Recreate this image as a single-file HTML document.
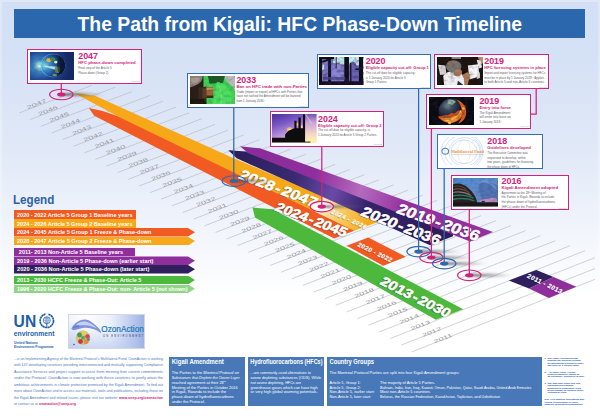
<!DOCTYPE html>
<html><head><meta charset="utf-8"><title>The Path from Kigali: HFC Phase-Down Timeline</title>
<style>

html,body{margin:0;padding:0;}
body{width:600px;height:416px;overflow:hidden;background:#fff;font-family:"Liberation Sans",sans-serif;}
#page{position:relative;width:600px;height:416px;overflow:hidden;
 background:linear-gradient(180deg,#d3dff4 0%,#d5e1f5 14%,#e1e9f8 36%,#eff3fb 53%,#fafbfe 65%,#ffffff 72%,#ffffff 100%);}
#page:before{content:"";position:absolute;left:0;top:0;width:596px;height:414px;border:2px solid rgba(255,255,255,.28);border-bottom:0;}
#tl,#tx{position:absolute;left:0;top:0;}
.abs{position:absolute;box-sizing:border-box;}
#banner{left:13.5px;top:8.5px;width:571.5px;height:29.5px;background:#2b67ad;}
.co{background:#fff;border:1.2px solid #d3227b;}
.co.b{border-color:#356fb1;}
.ph{position:absolute;overflow:hidden;}
.bar{height:8.6px;}
.bx{background:#4878b8;}

</style></head>
<body>
<div id="page">
<svg id="tl" width="600" height="416" viewBox="0 0 600 416">
<defs>
<linearGradient id="gY" gradientUnits="userSpaceOnUse" x1="312" y1="206" x2="366" y2="230">
 <stop offset="0" stop-color="#f7a818"/><stop offset="0.08" stop-color="#f7a818"/>
 <stop offset="0.10" stop-color="#fdf0cf"/><stop offset="0.45" stop-color="#fbcf6d"/><stop offset="1" stop-color="#f7a818"/>
</linearGradient>
<linearGradient id="gP" gradientUnits="userSpaceOnUse" x1="240" y1="150" x2="490" y2="238">
 <stop offset="0" stop-color="#8a2b9a"/><stop offset="0.30" stop-color="#8f2f9e"/>
 <stop offset="0.48" stop-color="#b56abd"/><stop offset="0.66" stop-color="#93309f"/><stop offset="1" stop-color="#93309f"/>
</linearGradient>
<linearGradient id="gD" gradientUnits="userSpaceOnUse" x1="228" y1="155" x2="450" y2="240">
 <stop offset="0" stop-color="#2b1d58"/><stop offset="0.30" stop-color="#3a2a72"/>
 <stop offset="0.47" stop-color="#6a4aa6"/><stop offset="0.62" stop-color="#35236a"/><stop offset="1" stop-color="#2d1c5a"/>
</linearGradient>
<linearGradient id="gS" x1="0" y1="0" x2="1" y2="0">
 <stop offset="0" stop-color="#444" stop-opacity="0.95"/><stop offset="1" stop-color="#777" stop-opacity="0"/>
</linearGradient>
<filter id="tb" x="-10%" y="-40%" width="120%" height="180%"><feGaussianBlur stdDeviation="0.9"/></filter>
<filter id="tb2" x="-10%" y="-40%" width="120%" height="180%"><feGaussianBlur stdDeviation="0.35"/></filter>
<filter id="bl" x="-10%" y="-200%" width="120%" height="500%"><feGaussianBlur stdDeviation="0.9"/></filter>
</defs>
<g stroke="#b3b5ba" stroke-width="0.6" fill="none"><line x1="19.0" y1="113.0" x2="92.0" y2="85.3"/><line x1="29.9" y1="119.6" x2="115.5" y2="87.1"/><line x1="40.8" y1="126.3" x2="132.0" y2="91.6"/><line x1="51.8" y1="132.9" x2="150.0" y2="95.4"/><line x1="62.7" y1="139.5" x2="163.0" y2="101.2"/><line x1="73.6" y1="146.2" x2="176.0" y2="107.0"/><line x1="84.5" y1="152.8" x2="189.0" y2="112.8"/><line x1="95.4" y1="159.4" x2="202.0" y2="118.6"/><line x1="106.4" y1="166.1" x2="215.0" y2="124.4"/><line x1="117.3" y1="172.7" x2="228.0" y2="130.2"/><line x1="128.2" y1="179.3" x2="243.6" y2="135.0"/><line x1="139.1" y1="186.0" x2="259.2" y2="139.7"/><line x1="150.0" y1="192.6" x2="274.8" y2="144.5"/><line x1="161.0" y1="199.2" x2="290.4" y2="149.3"/><line x1="171.9" y1="205.9" x2="306.0" y2="154.1"/><line x1="182.8" y1="212.5" x2="320.6" y2="159.2"/><line x1="193.7" y1="219.1" x2="335.2" y2="164.4"/><line x1="204.6" y1="225.8" x2="349.8" y2="169.5"/><line x1="215.6" y1="232.4" x2="364.3" y2="174.7"/><line x1="226.5" y1="239.0" x2="378.9" y2="179.8"/><line x1="237.4" y1="245.6" x2="393.5" y2="184.9"/><line x1="248.3" y1="252.3" x2="408.1" y2="190.1"/><line x1="259.2" y1="258.9" x2="422.7" y2="195.2"/><line x1="270.2" y1="265.5" x2="437.2" y2="200.3"/><line x1="281.1" y1="272.2" x2="451.8" y2="205.5"/><line x1="292.0" y1="278.8" x2="466.4" y2="210.6"/><line x1="302.9" y1="285.4" x2="481.0" y2="215.7"/><line x1="313.8" y1="292.1" x2="495.9" y2="220.7"/><line x1="324.8" y1="298.7" x2="510.7" y2="225.7"/><line x1="335.7" y1="305.3" x2="525.6" y2="230.7"/><line x1="346.6" y1="312.0" x2="540.4" y2="235.7"/><line x1="357.5" y1="318.6" x2="555.3" y2="240.7"/><line x1="368.4" y1="325.2" x2="570.1" y2="245.7"/><line x1="379.4" y1="331.9" x2="585.0" y2="250.7"/><line x1="390.3" y1="338.5" x2="595.0" y2="257.6"/><line x1="401.2" y1="345.1" x2="595.0" y2="268.5"/><line x1="412.1" y1="351.8" x2="595.0" y2="279.3"/></g>
<g font-family="Liberation Sans, sans-serif" font-size="6.5" fill="#97979b"><text transform="matrix(1.309,-0.497,0.400,0.693,37.4,105.6)" text-anchor="middle">2047</text><text transform="matrix(1.309,-0.497,0.400,0.693,48.7,112.1)" text-anchor="middle">2046</text><text transform="matrix(1.309,-0.497,0.400,0.693,60.0,118.6)" text-anchor="middle">2045</text><text transform="matrix(1.309,-0.497,0.400,0.693,71.3,125.1)" text-anchor="middle">2044</text><text transform="matrix(1.309,-0.497,0.400,0.693,82.6,131.6)" text-anchor="middle">2043</text><text transform="matrix(1.309,-0.497,0.400,0.693,93.9,138.2)" text-anchor="middle">2042</text><text transform="matrix(1.309,-0.497,0.400,0.693,105.2,144.7)" text-anchor="middle">2041</text><text transform="matrix(1.309,-0.497,0.400,0.693,116.4,151.2)" text-anchor="middle">2040</text><text transform="matrix(1.309,-0.497,0.400,0.693,127.7,157.7)" text-anchor="middle">2039</text><text transform="matrix(1.309,-0.497,0.400,0.693,139.0,164.2)" text-anchor="middle">2038</text><text transform="matrix(1.309,-0.497,0.400,0.693,150.3,170.7)" text-anchor="middle">2037</text><text transform="matrix(1.309,-0.497,0.400,0.693,161.6,177.2)" text-anchor="middle">2036</text><text transform="matrix(1.309,-0.497,0.400,0.693,172.9,183.7)" text-anchor="middle">2035</text><text transform="matrix(1.309,-0.497,0.400,0.693,184.2,190.2)" text-anchor="middle">2034</text><text transform="matrix(1.309,-0.497,0.400,0.693,195.5,196.7)" text-anchor="middle">2033</text><text transform="matrix(1.309,-0.497,0.400,0.693,206.8,203.2)" text-anchor="middle">2032</text><text transform="matrix(1.309,-0.497,0.400,0.693,218.1,209.7)" text-anchor="middle">2031</text><text transform="matrix(1.309,-0.497,0.400,0.693,229.4,216.2)" text-anchor="middle">2030</text><text transform="matrix(1.309,-0.497,0.400,0.693,240.7,222.7)" text-anchor="middle">2029</text><text transform="matrix(1.309,-0.497,0.400,0.693,252.0,229.3)" text-anchor="middle">2028</text><text transform="matrix(1.309,-0.497,0.400,0.693,263.2,235.8)" text-anchor="middle">2027</text><text transform="matrix(1.309,-0.497,0.400,0.693,274.5,242.3)" text-anchor="middle">2026</text><text transform="matrix(1.309,-0.497,0.400,0.693,285.8,248.8)" text-anchor="middle">2025</text><text transform="matrix(1.309,-0.497,0.400,0.693,297.1,255.3)" text-anchor="middle">2024</text><text transform="matrix(1.309,-0.497,0.400,0.693,308.4,261.8)" text-anchor="middle">2023</text><text transform="matrix(1.309,-0.497,0.400,0.693,319.7,268.3)" text-anchor="middle">2022</text><text transform="matrix(1.309,-0.497,0.400,0.693,331.0,274.8)" text-anchor="middle">2021</text><text transform="matrix(1.309,-0.497,0.400,0.693,342.3,281.3)" text-anchor="middle">2020</text><text transform="matrix(1.309,-0.497,0.400,0.693,353.6,287.8)" text-anchor="middle">2019</text><text transform="matrix(1.309,-0.497,0.400,0.693,364.9,294.3)" text-anchor="middle">2018</text><text transform="matrix(1.309,-0.497,0.400,0.693,376.2,300.8)" text-anchor="middle">2017</text><text transform="matrix(1.309,-0.497,0.400,0.693,387.5,307.3)" text-anchor="middle">2016</text><text transform="matrix(1.309,-0.497,0.400,0.693,398.8,313.8)" text-anchor="middle">2015</text><text transform="matrix(1.309,-0.497,0.400,0.693,410.0,320.4)" text-anchor="middle">2014</text><text transform="matrix(1.309,-0.497,0.400,0.693,421.3,326.9)" text-anchor="middle">2013</text><text transform="matrix(1.309,-0.497,0.400,0.693,432.6,333.4)" text-anchor="middle">2012</text><text transform="matrix(1.309,-0.497,0.400,0.693,443.9,339.9)" text-anchor="middle">2011</text></g>
<polygon points="88.8,108.0 101.7,110.8 125.0,118.5 352.0,228.5 354.2,230.8 334.2,238.6 94.2,115.8" fill="#f15a22" />
<polygon points="74.2,93.0 95.0,95.8 232.0,157.4 300.0,186.5 376.7,221.0 376.7,222.5 354.2,230.8 120.0,117.6" fill="url(#gY)" />
<polygon points="252.5,207.5 272.5,209.2 463.3,309.2 435.8,319.7 255.0,217.5" fill="#4db93c" />
<polygon points="228.3,150.3 246.0,151.5 300.0,172.5 453.0,233.5 453.0,236.2 430.0,245.2 236.7,158.3" fill="url(#gD)" />
<polygon points="240.0,146.3 260.0,148.3 493.0,232.0 470.0,241.6 248.3,153.3" fill="url(#gP)" />
<polygon points="346.7,245.8 368.3,237.5 405.8,256.7 383.3,265.8" fill="#f15a22" />
<polygon points="508.8,280.5 536.3,270.0 553.5,277.0 529.0,288.4" fill="#2f1f5c" />
<polygon points="529.0,288.4 553.5,277.0 576.3,286.8 548.8,298.0" fill="#8e2f9c" />
<g font-family="Liberation Sans, sans-serif" font-weight="bold">
<g transform="translate(237.78,178.06) rotate(21.08) skewX(-10) scale(1,0.86)" font-size="16.44"><g fill="#000" opacity="0.65" filter="url(#tb)" transform="translate(-0.4,0.9)"><text x="0" y="0">2028</text><text x="40.85" y="0" text-anchor="middle">-</text><text x="81.70" y="0" text-anchor="end">2047</text></g><g fill="#fff" stroke="#fff" stroke-width="0.65" stroke-linejoin="round"><text x="0" y="0">2028</text><text x="40.85" y="0" text-anchor="middle">-</text><text x="81.70" y="0" text-anchor="end">2047</text></g></g>
<g transform="translate(274.01,209.96) rotate(20.98) skewX(-10) scale(1,0.86)" font-size="15.19"><g fill="#000" opacity="0.65" filter="url(#tb)" transform="translate(-0.4,0.9)"><text x="0" y="0">2024</text><text x="37.74" y="0" text-anchor="middle">-</text><text x="75.49" y="0" text-anchor="end">2045</text></g><g fill="#fff" stroke="#fff" stroke-width="0.65" stroke-linejoin="round"><text x="0" y="0">2024</text><text x="37.74" y="0" text-anchor="middle">-</text><text x="75.49" y="0" text-anchor="end">2045</text></g></g>
<g transform="translate(378.93,283.72) rotate(26.72) skewX(-10) scale(1,0.86)" font-size="15.32"><g fill="#000" opacity="0.65" filter="url(#tb)" transform="translate(-0.4,0.9)"><text x="0" y="0">2013</text><text x="38.07" y="0" text-anchor="middle">-</text><text x="76.14" y="0" text-anchor="end">2030</text></g><g fill="#fff" stroke="#fff" stroke-width="0.65" stroke-linejoin="round"><text x="0" y="0">2013</text><text x="38.07" y="0" text-anchor="middle">-</text><text x="76.14" y="0" text-anchor="end">2030</text></g></g>
<g transform="translate(359.84,215.08) rotate(21.33) skewX(-10) scale(1,0.86)" font-size="16.76"><g fill="#000" opacity="0.65" filter="url(#tb)" transform="translate(-0.4,0.9)"><text x="0" y="0">2020</text><text x="41.64" y="0" text-anchor="middle">-</text><text x="83.28" y="0" text-anchor="end">2036</text></g><g fill="#fff" stroke="#fff" stroke-width="0.65" stroke-linejoin="round"><text x="0" y="0">2020</text><text x="41.64" y="0" text-anchor="middle">-</text><text x="83.28" y="0" text-anchor="end">2036</text></g></g>
<g transform="translate(395.52,212.52) rotate(19.36) skewX(-10) scale(1,0.86)" font-size="17.29"><g fill="#000" opacity="0.65" filter="url(#tb)" transform="translate(-0.4,0.9)"><text x="0" y="0">2019</text><text x="42.96" y="0" text-anchor="middle">-</text><text x="85.93" y="0" text-anchor="end">2036</text></g><g fill="#fff" stroke="#fff" stroke-width="0.65" stroke-linejoin="round"><text x="0" y="0">2019</text><text x="42.96" y="0" text-anchor="middle">-</text><text x="85.93" y="0" text-anchor="end">2036</text></g></g>
<g transform="translate(330.40,213.00) rotate(24.96) skewX(-6)"><text font-size="6.3" textLength="38.4" lengthAdjust="spacing" x="-0.2" y="0.5" fill="#000" opacity="0.35" filter="url(#tb2)">2024 - 2026</text><text font-size="6.3" textLength="38.4" lengthAdjust="spacing" fill="#fff" stroke="#fff" stroke-width="0.18">2024 - 2026</text></g>
<g transform="translate(357.00,245.90) rotate(26.02) skewX(-6)"><text font-size="6.3" textLength="37.4" lengthAdjust="spacing" x="-0.2" y="0.5" fill="#000" opacity="0.35" filter="url(#tb2)">2020 - 2022</text><text font-size="6.3" textLength="37.4" lengthAdjust="spacing" fill="#fff" stroke="#fff" stroke-width="0.18">2020 - 2022</text></g>
<g transform="translate(526.60,277.20) rotate(25.89) skewX(-6)"><text font-size="6.3" textLength="38.0" lengthAdjust="spacing" x="-0.2" y="0.5" fill="#000" opacity="0.35" filter="url(#tb2)">2011 - 2013</text><text font-size="6.3" textLength="38.0" lengthAdjust="spacing" fill="#fff" stroke="#fff" stroke-width="0.18">2011 - 2013</text></g>
</g>
<ellipse cx="82.3" cy="94.5" rx="23" ry="1.7" fill="url(#gS)" filter="url(#bl)"/><ellipse cx="61.3" cy="94.5" rx="11.7" ry="5.3" fill="none" stroke="#d3227b" stroke-width="1.15"/><ellipse cx="61.3" cy="94.5" rx="4.2" ry="2.1" fill="#d3227b"/><line x1="61.3" y1="83.0" x2="61.3" y2="94.5" stroke="#d3227b" stroke-width="1.25"/>
<ellipse cx="254.8" cy="181.0" rx="23" ry="1.7" fill="url(#gS)" filter="url(#bl)"/><ellipse cx="233.8" cy="181.0" rx="11.7" ry="5.3" fill="none" stroke="#2f69ad" stroke-width="1.15"/><ellipse cx="233.8" cy="181.0" rx="4.2" ry="2.1" fill="#2f69ad"/><line x1="233.8" y1="107.5" x2="233.8" y2="181.0" stroke="#2f69ad" stroke-width="1.25"/>
<ellipse cx="342.8" cy="206.6" rx="23" ry="1.7" fill="url(#gS)" filter="url(#bl)"/><ellipse cx="321.8" cy="206.6" rx="11.2" ry="4.9" fill="#fff" opacity="0.93"/><ellipse cx="327.8" cy="206.6" rx="5" ry="1.3" fill="#666" opacity="0.8" filter="url(#bl)"/><ellipse cx="321.8" cy="206.6" rx="11.7" ry="5.3" fill="none" stroke="#d3227b" stroke-width="1.15"/><ellipse cx="321.8" cy="206.6" rx="4.2" ry="2.1" fill="#d3227b"/><line x1="321.8" y1="146.5" x2="321.8" y2="206.6" stroke="#d3227b" stroke-width="1.25"/>
<ellipse cx="439.6" cy="251.6" rx="23" ry="1.7" fill="url(#gS)" filter="url(#bl)"/><ellipse cx="418.6" cy="251.6" rx="11.7" ry="5.3" fill="none" stroke="#2f69ad" stroke-width="1.15"/><ellipse cx="418.6" cy="251.6" rx="4.2" ry="2.1" fill="#2f69ad"/><line x1="418.6" y1="89.0" x2="418.6" y2="251.6" stroke="#2f69ad" stroke-width="1.25"/>
<ellipse cx="452.4" cy="257.6" rx="23" ry="1.7" fill="url(#gS)" filter="url(#bl)"/><ellipse cx="431.4" cy="257.6" rx="11.7" ry="5.3" fill="none" stroke="#d3227b" stroke-width="1.15"/><ellipse cx="431.4" cy="257.6" rx="4.2" ry="2.1" fill="#d3227b"/><line x1="431.4" y1="128.0" x2="431.4" y2="257.6" stroke="#d3227b" stroke-width="1.25"/>
<ellipse cx="465.2" cy="263.6" rx="23" ry="1.7" fill="url(#gS)" filter="url(#bl)"/><ellipse cx="444.2" cy="263.6" rx="11.7" ry="5.3" fill="none" stroke="#2f69ad" stroke-width="1.15"/><ellipse cx="444.2" cy="263.6" rx="4.2" ry="2.1" fill="#2f69ad"/><line x1="444.2" y1="168.0" x2="444.2" y2="263.6" stroke="#2f69ad" stroke-width="1.25"/>
<ellipse cx="490.3" cy="275.3" rx="23" ry="1.7" fill="url(#gS)" filter="url(#bl)"/><ellipse cx="469.3" cy="275.3" rx="11.7" ry="5.3" fill="none" stroke="#d3227b" stroke-width="1.15"/><ellipse cx="469.3" cy="275.3" rx="4.2" ry="2.1" fill="#d3227b"/><line x1="469.3" y1="210.0" x2="469.3" y2="275.3" stroke="#d3227b" stroke-width="1.25"/>
<polyline points="536.2,89 536.2,114.2 530.5,114.2" fill="none" stroke="#d3227b" stroke-width="1.25"/></svg>
<div class="abs " style="left:13.5px;top:8.5px;width:571.5px;height:29.5px;background:#2b67ad;"></div>
<div class="abs co" style="left:27.2px;top:48.6px;width:114.6px;height:35px;"><svg class="ph" style="left:1.5px;top:2.2px" width="44.5" height="28.6" viewBox="0 0 44 30" preserveAspectRatio="none"><defs><filter id="pbearth" x="-5%" y="-5%" width="110%" height="110%"><feGaussianBlur stdDeviation="0.55"/></filter><clipPath id="pcearth"><rect width="44" height="30"/></clipPath><radialGradient id="e0" gradientUnits="userSpaceOnUse" cx="9.5" cy="14.5" r="30"><stop offset="0" stop-color="#f4fff2"/><stop offset="0.06" stop-color="#9fe0d8"/><stop offset="0.2" stop-color="#3f86c4"/><stop offset="0.5" stop-color="#1f4a9a"/><stop offset="1" stop-color="#142a66"/></radialGradient><radialGradient id="e1" gradientUnits="userSpaceOnUse" cx="14" cy="14" r="22"><stop offset="0" stop-color="#7fe0e0"/><stop offset="0.25" stop-color="#3a8fd0"/><stop offset="0.55" stop-color="#1f4f9a"/><stop offset="0.8" stop-color="#101f48"/><stop offset="1" stop-color="#0a1028"/></radialGradient></defs><g clip-path="url(#pcearth)"><rect width="44" height="30" fill="url(#e0)"/><g filter="url(#pbearth)"><circle cx="22.6" cy="14.2" r="12.3" fill="#7fe8e0" opacity=".55"/><circle cx="23" cy="14.2" r="11.8" fill="url(#e1)"/><ellipse cx="18.5" cy="8.6" rx="2.4" ry="2.2" fill="#e0b050"/><ellipse cx="22.5" cy="7.6" rx="2.6" ry="2" fill="#3f9040"/><ellipse cx="25.5" cy="10.6" rx="1.8" ry="1.5" fill="#d8f0c0"/><path d="M14 15c3-1 6 0 9 0s4 1 6 2-3 2-6 1-6-1-9-3z" fill="#e8f4f8" opacity=".8"/><ellipse cx="27" cy="18.5" rx="2.6" ry="3.6" fill="#5f8a4a" opacity=".9"/><ellipse cx="24.5" cy="24" rx="2.2" ry="1.3" fill="#7fae70" opacity=".8"/><ellipse cx="30.5" cy="14" rx="3.6" ry="9" fill="#0a1228" opacity=".55"/></g></g><filter id="nzearth" x="0" y="0" width="100%" height="100%"><feTurbulence type="fractalNoise" baseFrequency="0.23 0.3" numOctaves="2" seed="5"/><feColorMatrix values="0 0 0 0 0.03  0 0 0 0 0.02  0 0 0 0 0.06  0 0 0 -2.4 1.35"/><feGaussianBlur stdDeviation="0.3"/></filter><rect width="44" height="30" filter="url(#nzearth)" opacity="0.2"/></svg></div>
<div class="abs co b" style="left:187.4px;top:73.3px;width:121.5px;height:35.2px;"><svg class="ph" style="left:1.5px;top:1.5px" width="45.5" height="28.6" viewBox="0 0 44 30" preserveAspectRatio="none"><defs><filter id="pbvalve" x="-5%" y="-5%" width="110%" height="110%"><feGaussianBlur stdDeviation="0.55"/></filter><clipPath id="pcvalve"><rect width="44" height="30"/></clipPath></defs><g clip-path="url(#pcvalve)"><rect width="44" height="30" fill="#3fd252"/><g filter="url(#pbvalve)"><path d="M33 -1h12v22c-1-6-4-11-8-14-2-2-4-4-4-8z" fill="#b9b9be"/><path d="M17 -1h17l-2 8-13 1z" fill="#1c5a26"/><path d="M26 6c6 1 11 6 14 13v12H22z" fill="#4fe063" opacity=".9"/><path d="M28 10c2 5 3 12 2 20" stroke="#7ff090" stroke-width=".8" fill="none" opacity=".7"/><rect x="-1" y="-1" width="14" height="32" fill="#2a1c15"/><path d="M-1 -1h13c1 4-1 8-5 10s-6 3-8 3z" fill="#8c8076"/><path d="M1 3c3-2 7-2 9 0-1 3-4 5-9 6z" fill="#a59a8e"/><path d="M8 12l8-1v18H8z" fill="#3a2a1e"/><rect x="12" y="13" width="5" height="10" fill="#5a3c24"/><rect x="16" y="11.5" width="6.5" height="11" rx="1" fill="#9a6838"/><rect x="16" y="12.5" width="6.5" height="2" fill="#c89660"/><rect x="16" y="20.5" width="6.5" height="2.5" fill="#3c2616"/><path d="M-1 24h14l4 7H-1z" fill="#1c120e"/></g></g><filter id="nzvalve" x="0" y="0" width="100%" height="100%"><feTurbulence type="fractalNoise" baseFrequency="0.23 0.3" numOctaves="2" seed="5"/><feColorMatrix values="0 0 0 0 0.03  0 0 0 0 0.02  0 0 0 0 0.06  0 0 0 -2.4 1.35"/><feGaussianBlur stdDeviation="0.3"/></filter><rect width="44" height="30" filter="url(#nzvalve)" opacity="0.22"/></svg></div>
<div class="abs co" style="left:269.6px;top:111.2px;width:114.4px;height:35.6px;"><svg class="ph" style="left:1.5px;top:2.1px" width="44.5" height="28.6" viewBox="0 0 44 30" preserveAspectRatio="none"><defs><filter id="pbsunset" x="-5%" y="-5%" width="110%" height="110%"><feGaussianBlur stdDeviation="0.55"/></filter><clipPath id="pcsunset"><rect width="44" height="30"/></clipPath><linearGradient id="s1" x1="0" y1="0" x2="0.55" y2="1"><stop offset="0" stop-color="#4a2c9c"/><stop offset="0.35" stop-color="#7a58c4"/><stop offset="0.65" stop-color="#b592dc"/><stop offset="0.85" stop-color="#e7b0b8"/><stop offset="1" stop-color="#f6c890"/></linearGradient><linearGradient id="s2" x1="0" y1="0" x2="0" y2="1"><stop offset="0" stop-color="#6a48b4"/><stop offset="0.3" stop-color="#c9a0d8"/><stop offset="0.7" stop-color="#f4d8c8"/><stop offset="0.93" stop-color="#fff2a0"/><stop offset="1" stop-color="#f8d870"/></linearGradient></defs><g clip-path="url(#pcsunset)"><rect width="44" height="30" fill="url(#s1)"/><g filter="url(#pbsunset)"><rect x="32" y="-1" width="13" height="32" fill="url(#s2)"/><path d="M33 0l6 10" stroke="#f8d8c0" stroke-width="1.2" opacity=".6"/><circle cx="17.3" cy="16.6" r="2.6" fill="#f9b860"/><circle cx="17.6" cy="17" r="1.2" fill="#fff0b0"/><circle cx="25" cy="11" r="1.8" fill="#f6b070"/><circle cx="29" cy="13.5" r="1.6" fill="#f2c8d8"/><path d="M-1 25h14v-3.5l3.3-4 5.9-2.6V7h2v8h2V3.6h2.2V15h2.2V0.3h2.1V31H-1z" fill="#0a0708"/><rect x="32" y="29" width="6" height="2" fill="#0a0708"/></g></g></svg></div>
<div class="abs co b" style="left:316.6px;top:54.3px;width:114.4px;height:35.2px;"><svg class="ph" style="left:1.5px;top:1.5px" width="44.5" height="28.6" viewBox="0 0 44 30" preserveAspectRatio="none"><defs><filter id="pbplant" x="-5%" y="-5%" width="110%" height="110%"><feGaussianBlur stdDeviation="0.55"/></filter><clipPath id="pcplant"><rect width="44" height="30"/></clipPath></defs><g clip-path="url(#pcplant)"><rect width="44" height="30" fill="#7c76c6"/><g filter="url(#pbplant)"><path d="M14 -1h26v9l-6 2-6-3-6 1-8-2z" fill="#c6ecea"/><rect x="1" y="8" width="4" height="6" fill="#bfe4e6"/><path d="M14 7c4-2 8-1 10 3v14H12z" fill="#8a84d6"/><path d="M32 5c3-1 5 1 5 4l3 3v14h-9z" fill="#6a60b4"/><rect x="-1" y="-1" width="4" height="32" fill="#0e0b14"/><rect x="-1" y="-1" width="16" height="3.2" fill="#0e0b14"/><rect x="3" y="3" width="7" height="2" fill="#14101c" transform="rotate(-20 6 4)"/><rect x="9" y="2" width="2.8" height="29" fill="#0e0b14"/><rect x="16.5" y="0" width="1" height="12" fill="#2a2640"/><rect x="25" y="-1" width="4.6" height="32" fill="#0e0b14"/><rect x="30.5" y="6" width="1.6" height="25" fill="#1a1626"/><rect x="39.5" y="-1" width="4" height="32" fill="#0e0b14"/><rect x="36" y="12" width="4" height="1.6" fill="#14101c"/><rect x="-1" y="25.5" width="46" height="6" fill="#141020"/><rect x="4" y="21" width="22" height="3" fill="#4a4486" opacity=".8"/></g></g><filter id="nzplant" x="0" y="0" width="100%" height="100%"><feTurbulence type="fractalNoise" baseFrequency="0.23 0.3" numOctaves="2" seed="5"/><feColorMatrix values="0 0 0 0 0.03  0 0 0 0 0.02  0 0 0 0 0.06  0 0 0 -2.4 1.35"/><feGaussianBlur stdDeviation="0.3"/></filter><rect width="44" height="30" filter="url(#nzplant)" opacity="0.55"/></svg></div>
<div class="abs co" style="left:434px;top:54.3px;width:115px;height:35.2px;"><svg class="ph" style="left:1.5px;top:1.5px" width="46" height="28.6" viewBox="0 0 44 30" preserveAspectRatio="none"><defs><filter id="pbman" x="-5%" y="-5%" width="110%" height="110%"><feGaussianBlur stdDeviation="0.55"/></filter><clipPath id="pcman"><rect width="44" height="30"/></clipPath></defs><g clip-path="url(#pcman)"><rect width="44" height="30" fill="#1c130f"/><g filter="url(#pbman)"><rect x="14" y="-1" width="9" height="3" fill="#8a8c94"/><path d="M1 8l7 1 1 9-6 1z" fill="#d8d6d4"/><path d="M39 -1h6v7l-4 2z" fill="#c09070"/><path d="M38 3l4 1 1 7-3 1z" fill="#e8e8ec"/><path d="M6 20c2-4 8-6 13-5s8 6 8 16H7z" fill="#f1f1f3"/><path d="M20 25l5 4-1 2h-5z" fill="#2a2c3a"/><ellipse cx="16" cy="10" rx="7.4" ry="6.6" fill="#76726e"/><ellipse cx="14" cy="6.6" rx="4" ry="2.6" fill="#8e7264"/><path d="M18 13c3-1 6 0 6 3s-3 5-6 4-2-5 0-7z" fill="#a87858"/><path d="M29.5 9l10-1.5 1 13-9.500 3z" fill="#f4f4f6"/><path d="M24 19l5-3 3 2-1 4-2 9h-3l0-8z" fill="#b07c56"/><path d="M38 17l3-1v6l-3 1z" fill="#e0e0e4"/></g></g><filter id="nzman" x="0" y="0" width="100%" height="100%"><feTurbulence type="fractalNoise" baseFrequency="0.23 0.3" numOctaves="2" seed="3"/><feColorMatrix values="0 0 0 0 0.03  0 0 0 0 0.02  0 0 0 0 0.06  0 0 0 -2.4 1.35"/><feGaussianBlur stdDeviation="0.3"/></filter><rect width="44" height="30" filter="url(#nzman)" opacity="0.3"/></svg></div>
<div class="abs co" style="left:426px;top:93.8px;width:104.8px;height:35.4px;"><svg class="ph" style="left:1.5px;top:2.0px" width="45.5" height="28.6" viewBox="0 0 44 30" preserveAspectRatio="none"><defs><filter id="pbfire" x="-5%" y="-5%" width="110%" height="110%"><feGaussianBlur stdDeviation="0.55"/></filter><clipPath id="pcfire"><rect width="44" height="30"/></clipPath><radialGradient id="f1" gradientUnits="userSpaceOnUse" cx="18" cy="9" r="17"><stop offset="0" stop-color="#6f8a8c"/><stop offset="0.3" stop-color="#3a4a5e"/><stop offset="0.7" stop-color="#1a2030"/><stop offset="1" stop-color="#0c0e16"/></radialGradient></defs><g clip-path="url(#pcfire)"><rect width="44" height="30" fill="#0a0b10"/><g filter="url(#pbfire)"><circle cx="22.5" cy="14.8" r="13.2" fill="url(#f1)"/><path d="M18 3c3-1 6 0 8 2l-3 3-5-1z" fill="#9ac0a0" opacity=".8"/><path d="M27 3c5 2 9 7 9 13s-3 10-8 12c3-4 5-8 4-13s-2-8-5-12z" fill="#d8601c"/><path d="M9 20c3 1 5-2 8-1s3-3 6-2 4-4 7-3 3-5 5-6c1 6-1 12-6 16s-12 4-16 1-4-3-4-5z" fill="#c8501a"/><path d="M11 22c3 1 5-1 8 0s4-3 7-2 4-3 6-5c0 5-3 9-7 11s-10 1-14-4z" fill="#f08a28"/><path d="M16 25c3 0 6-1 9-3s5-5 6-8" stroke="#ffd060" stroke-width="1.1" fill="none" opacity=".9"/><circle cx="20" cy="27" r="1.6" fill="#ffc850"/><circle cx="33.500" cy="12" r="1.4" fill="#ffb040"/></g></g><filter id="nzfire" x="0" y="0" width="100%" height="100%"><feTurbulence type="fractalNoise" baseFrequency="0.23 0.3" numOctaves="2" seed="4"/><feColorMatrix values="0 0 0 0 0.03  0 0 0 0 0.02  0 0 0 0 0.06  0 0 0 -2.4 1.35"/><feGaussianBlur stdDeviation="0.3"/></filter><rect width="44" height="30" filter="url(#nzfire)" opacity="0.4"/></svg></div>
<div class="abs co b" style="left:437.3px;top:134.2px;width:105.4px;height:35px;"><svg class="ph" style="left:1.5px;top:1.7px" width="46" height="28.6" viewBox="0 0 44 30" preserveAspectRatio="none"><defs><filter id="pbfund" x="-5%" y="-5%" width="110%" height="110%"><feGaussianBlur stdDeviation="0.55"/></filter><clipPath id="pcfund"><rect width="44" height="30"/></clipPath></defs><g clip-path="url(#pcfund)"><rect width="44" height="30" fill="#fefeff"/><g fill="none" stroke="#b6cbea" stroke-width=".55"><circle cx="23" cy="15.5" r="12.5"/><circle cx="23.5" cy="15.5" r="15"/><circle cx="22" cy="15.5" r="17.5"/><circle cx="21" cy="15.5" r="20"/><ellipse cx="23" cy="15.5" rx="6" ry="12.5" stroke="#e6d4c8" stroke-width=".4"/><circle cx="5" cy="15" r="3.2" stroke="#5a86c8" stroke-width="1.1"/></g><text x="10.5" y="16.6" font-family="Liberation Serif, serif" font-weight="bold" font-size="4.3" fill="#e8924a" textLength="31.500" lengthAdjust="spacingAndGlyphs">Multilateral Fund</text><rect x="10.5" y="18.3" width="31.500" height=".7" fill="#b0b4c8" opacity=".7"/></g></svg></div>
<div class="abs co" style="left:450.8px;top:174.8px;width:118px;height:35.7px;"><svg class="ph" style="left:1.5px;top:2.2px" width="45" height="28.6" viewBox="0 0 44 30" preserveAspectRatio="none"><defs><filter id="pbdome" x="-5%" y="-5%" width="110%" height="110%"><feGaussianBlur stdDeviation="0.55"/></filter><clipPath id="pcdome"><rect width="44" height="30"/></clipPath><linearGradient id="d1" x1="0" y1="0" x2="1" y2="1"><stop offset="0" stop-color="#4a8ad2"/><stop offset="0.5" stop-color="#5f8ccc"/><stop offset="1" stop-color="#6a7fbc"/></linearGradient></defs><g clip-path="url(#pcdome)"><rect width="44" height="30" fill="url(#d1)"/><g filter="url(#pbdome)"><path d="M25 7c5-4 12-3 20 1v16H30c-3-5-6-11-5-17z" fill="#4a6cac" opacity=".75"/><path d="M28 3c5 0 10 3 14 8" stroke="#7aa6dc" stroke-width="2.200" fill="none" opacity=".5"/><path d="M26 23.500c3-1.500 6-1 9-2s6-1 8 1v2.500H26z" fill="#d690c0" opacity=".85"/><path d="M-1 31V7c5-2.500 11-1.500 16 3.500s8 10 8.500 15v5.500z" fill="#27211f"/><path d="M-1 9.500c5-2 10-1 14 2" stroke="#5c4038" stroke-width="1.200" fill="none"/><path d="M-1 12.500c6-2 12-1 17 3" stroke="#6e5044" stroke-width="1.200" fill="none"/><path d="M-1 15.500c7-2 14 0 19 3" stroke="#817a78" stroke-width="1.200" fill="none"/><path d="M-1 19c8-2 15-1 21 2" stroke="#33806e" stroke-width="1.500" fill="none"/><path d="M-1 22.500c8-1.500 16-1 22 1.500" stroke="#2f7868" stroke-width="1.500" fill="none"/><rect x="-1" y="25.500" width="46" height="6" fill="#1c1818"/><rect x="28" y="24" width="3" height="2" fill="#2a2a30"/></g></g><filter id="nzdome" x="0" y="0" width="100%" height="100%"><feTurbulence type="fractalNoise" baseFrequency="0.23 0.3" numOctaves="2" seed="4"/><feColorMatrix values="0 0 0 0 0.03  0 0 0 0 0.02  0 0 0 0 0.06  0 0 0 -2.4 1.35"/><feGaussianBlur stdDeviation="0.3"/></filter><rect width="44" height="30" filter="url(#nzdome)" opacity="0.22"/></svg></div>
<div class="abs bar" style="left:13.7px;top:210.4px;width:122.3px;height:8.6px;background:#f15a22;"></div>
<div class="abs bar" style="left:13.7px;top:219.3px;width:122.3px;height:8.6px;background:#f7a818;"></div>
<div class="abs bar" style="left:13.7px;top:228.0px;width:181.3px;height:8.6px;background:#f15a22;clip-path:polygon(0 0,174.3px 0,100% 50%,174.3px 100%,0 100%);"></div>
<div class="abs bar" style="left:13.7px;top:236.8px;width:181.3px;height:8.6px;background:#f7a818;clip-path:polygon(0 0,174.3px 0,100% 50%,174.3px 100%,0 100%);"></div>
<div class="abs bar" style="left:13.7px;top:247.8px;width:121.5px;height:8.6px;background:#8e2f9c;"></div>
<div class="abs bar" style="left:13.7px;top:256.4px;width:181.3px;height:8.6px;background:#8e2f9c;clip-path:polygon(0 0,174.3px 0,100% 50%,174.3px 100%,0 100%);"></div>
<div class="abs bar" style="left:13.7px;top:265.0px;width:181.3px;height:8.6px;background:#2f1f5c;clip-path:polygon(0 0,174.3px 0,100% 50%,174.3px 100%,0 100%);"></div>
<div class="abs bar" style="left:13.7px;top:275.8px;width:181.3px;height:8.6px;background:#4db93c;clip-path:polygon(0 0,174.3px 0,100% 50%,174.3px 100%,0 100%);"></div>
<div class="abs bar" style="left:13.7px;top:284.5px;width:181.3px;height:8.6px;background:#8fd585;clip-path:polygon(0 0,174.3px 0,100% 50%,174.3px 100%,0 100%);"></div>
<div class="abs " style="left:68.1px;top:313.6px;width:76.8px;height:35px;border:0.5px solid #d5d8e2;overflow:hidden;"><svg width="76.6" height="34.8" viewBox="0 0 76.6 34.8" style="position:absolute;left:0;top:0"><defs><linearGradient id="oz" x1="0" y1="0" x2="1" y2="0"><stop offset="0" stop-color="#f1f4fc"/><stop offset="0.22" stop-color="#ffffff"/><stop offset="0.55" stop-color="#eaeffa"/><stop offset="0.8" stop-color="#c0cdef"/><stop offset="1" stop-color="#98aee2"/></linearGradient><linearGradient id="oz2" x1="0" y1="1" x2="0.35" y2="0.3"><stop offset="0" stop-color="#a9bde8" stop-opacity=".75"/><stop offset="1" stop-color="#a9bde8" stop-opacity="0"/></linearGradient><filter id="ozb"><feGaussianBlur stdDeviation="0.45"/></filter></defs><rect width="76.6" height="34.8" fill="url(#oz)"/><rect width="76.6" height="34.8" fill="url(#oz2)"/><g filter="url(#ozb)"><path d="M2.300 13.800c1.500-3.500 4.500-6.800 8.500-8.300s7.500-1.200 10.200 0.500 5.500 4 8 6.500 3 4 3.200 5.800c-2.500-2-5.500-3.800-9-4.600s-6.500-1.200-9.500-0.600-5.500 1.500-7.500 1.800-3 0-3.900-1.100z" fill="#7f92dc"/><path d="M7 9.500c3-2.500 7-3.500 11-2.500s7 3.500 10 6.500c-4-2-8-3-12-3.200s-6.500 0-9-0.800z" fill="#c5d0f2"/><path d="M4 12.500c2-0.800 4-1 6-0.800" stroke="#5468c4" stroke-width="0.8" fill="none"/><circle cx="14" cy="22.800" r="7.300" fill="#c8c2a8"/><circle cx="10.500" cy="20" r="2.400" fill="#4a9a4a"/><circle cx="15" cy="18" r="2.300" fill="#e8d040"/><circle cx="18.500" cy="21.500" r="2.300" fill="#d84a3a"/><circle cx="17" cy="26.500" r="2.500" fill="#e8902a"/><circle cx="11.500" cy="26.500" r="2.400" fill="#c83a3a"/><circle cx="14" cy="22.800" r="2" fill="#58a860"/><circle cx="8.800" cy="23.500" r="1.600" fill="#e8c848"/><circle cx="19.500" cy="24.500" r="1.300" fill="#4a7ac8"/></g><circle cx="5" cy="29.500" r="0.700" fill="#2a3a6a"/></svg></div>
<div class="abs bx" style="left:168.7px;top:357px;width:75.9px;height:49.3px;"></div>
<div class="abs bx" style="left:248.2px;top:357px;width:76.1px;height:49.3px;"></div>
<div class="abs bx" style="left:327.4px;top:357px;width:214.7px;height:49.3px;"></div>
<svg id="tx" width="600" height="416" viewBox="0 0 600 416" font-family="Liberation Sans, sans-serif">
<text x="77.50" y="30.60" font-size="20.3" fill="#fff" font-weight="bold" textLength="444.50" lengthAdjust="spacingAndGlyphs" >The Path from Kigali: HFC Phase-Down Timeline</text>
<text x="78.20" y="59.30" font-size="9.0" fill="#d3227b" font-weight="bold" textLength="19.80" lengthAdjust="spacingAndGlyphs" >2047</text>
<text x="78.20" y="64.10" font-size="4.4" fill="#d3227b" font-weight="bold" textLength="57.50" lengthAdjust="spacingAndGlyphs" >HFC phase-down completed</text>
<text x="78.20" y="68.80" font-size="2.95" fill="#606165" textLength="33.50" lengthAdjust="spacingAndGlyphs" >Final step of the Article 5</text>
<text x="78.20" y="73.80" font-size="2.95" fill="#606165" textLength="31.00" lengthAdjust="spacingAndGlyphs" >Phase-down (Group 2).</text>
<text x="236.40" y="83.30" font-size="9.0" fill="#d3227b" font-weight="bold" textLength="19.80" lengthAdjust="spacingAndGlyphs" >2033</text>
<text x="236.40" y="88.10" font-size="4.4" fill="#d3227b" font-weight="bold" textLength="70.50" lengthAdjust="spacingAndGlyphs" >Ban on HFC trade with non-Parties</text>
<text x="236.40" y="92.80" font-size="2.95" fill="#606165" textLength="66.00" lengthAdjust="spacingAndGlyphs" >Trade (import or export) of HFCs with Parties that</text>
<text x="236.40" y="97.30" font-size="2.95" fill="#606165" textLength="64.00" lengthAdjust="spacingAndGlyphs" >have not ratified the Amendment will be banned</text>
<text x="236.40" y="101.80" font-size="2.95" fill="#606165" textLength="29.00" lengthAdjust="spacingAndGlyphs" >from 1 January 2033.<tspan dy="-1" font-size="1.9">4</tspan></text>
<text x="318.00" y="121.90" font-size="9.0" fill="#d3227b" font-weight="bold" textLength="19.80" lengthAdjust="spacingAndGlyphs" >2024</text>
<text x="318.00" y="126.70" font-size="4.4" fill="#d3227b" font-weight="bold" textLength="63.50" lengthAdjust="spacingAndGlyphs" >Eligible capacity cut-off: Group 2</text>
<text x="318.00" y="131.40" font-size="2.95" fill="#606165" textLength="52.00" lengthAdjust="spacingAndGlyphs" >The cut-off date for eligible capacity³ is</text>
<text x="318.00" y="136.40" font-size="2.95" fill="#606165" textLength="59.00" lengthAdjust="spacingAndGlyphs" >1 January 2024 for Article 5 Group 2 Parties.</text>
<text x="365.70" y="64.40" font-size="9.0" fill="#d3227b" font-weight="bold" textLength="19.80" lengthAdjust="spacingAndGlyphs" >2020</text>
<text x="365.70" y="69.20" font-size="4.4" fill="#d3227b" font-weight="bold" textLength="63.00" lengthAdjust="spacingAndGlyphs" >Eligible capacity cut-off: Group 1</text>
<text x="365.70" y="73.90" font-size="2.95" fill="#606165" textLength="49.50" lengthAdjust="spacingAndGlyphs" >The cut-off date for eligible capacity³</text>
<text x="365.70" y="78.60" font-size="2.95" fill="#606165" textLength="40.00" lengthAdjust="spacingAndGlyphs" >is 1 January 2020 for Article 5</text>
<text x="365.70" y="83.30" font-size="2.95" fill="#606165" textLength="21.50" lengthAdjust="spacingAndGlyphs" >Group 1 Parties.</text>
<text x="484.20" y="64.40" font-size="9.0" fill="#d3227b" font-weight="bold" textLength="19.80" lengthAdjust="spacingAndGlyphs" >2019</text>
<text x="484.20" y="69.20" font-size="4.4" fill="#d3227b" font-weight="bold" textLength="61.50" lengthAdjust="spacingAndGlyphs" >HFC licencing systems in place</text>
<text x="484.20" y="73.90" font-size="2.95" fill="#606165" textLength="61.00" lengthAdjust="spacingAndGlyphs" >Import and export licensing systems for HFCs</text>
<text x="484.20" y="78.60" font-size="2.95" fill="#606165" textLength="60.00" lengthAdjust="spacingAndGlyphs" >must be in place by 1 January 2019.² Applies</text>
<text x="484.20" y="83.30" font-size="2.95" fill="#606165" textLength="60.50" lengthAdjust="spacingAndGlyphs" >to both Article 5 and non-Article 5 countries.</text>
<text x="479.40" y="104.00" font-size="9.0" fill="#d3227b" font-weight="bold" textLength="19.80" lengthAdjust="spacingAndGlyphs" >2019</text>
<text x="479.40" y="108.80" font-size="4.4" fill="#d3227b" font-weight="bold" textLength="31.50" lengthAdjust="spacingAndGlyphs" >Entry into force</text>
<text x="479.40" y="113.50" font-size="2.95" fill="#606165" textLength="31.00" lengthAdjust="spacingAndGlyphs" >The Kigali Amendment</text>
<text x="479.40" y="118.20" font-size="2.95" fill="#606165" textLength="31.50" lengthAdjust="spacingAndGlyphs" >will enter into force on</text>
<text x="479.40" y="122.90" font-size="2.95" fill="#606165" textLength="22.50" lengthAdjust="spacingAndGlyphs" >1 January 2019.¹</text>
<text x="487.30" y="144.40" font-size="9.0" fill="#d3227b" font-weight="bold" textLength="19.80" lengthAdjust="spacingAndGlyphs" >2018</text>
<text x="487.30" y="149.20" font-size="4.4" fill="#d3227b" font-weight="bold" textLength="43.50" lengthAdjust="spacingAndGlyphs" >Guidelines developed</text>
<text x="487.30" y="153.90" font-size="2.95" fill="#606165" textLength="40.50" lengthAdjust="spacingAndGlyphs" >The Executive Committee was</text>
<text x="487.30" y="158.60" font-size="2.95" fill="#606165" textLength="38.50" lengthAdjust="spacingAndGlyphs" >requested to develop, within</text>
<text x="487.30" y="163.30" font-size="2.95" fill="#606165" textLength="46.00" lengthAdjust="spacingAndGlyphs" >two years, guidelines for financing</text>
<text x="487.30" y="168.00" font-size="2.95" fill="#606165" textLength="32.50" lengthAdjust="spacingAndGlyphs" >the phase down of HFCs.</text>
<text x="501.60" y="184.00" font-size="9.0" fill="#d3227b" font-weight="bold" textLength="19.80" lengthAdjust="spacingAndGlyphs" >2016</text>
<text x="501.60" y="188.80" font-size="4.4" fill="#d3227b" font-weight="bold" textLength="56.50" lengthAdjust="spacingAndGlyphs" >Kigali Amendment adopted</text>
<text x="501.60" y="193.50" font-size="2.95" fill="#606165" textLength="44.00" lengthAdjust="spacingAndGlyphs" >Agreement at the 28<tspan dy="-1" font-size="1.9">th</tspan><tspan dy="1"> Meeting of</tspan></text>
<text x="501.60" y="198.20" font-size="2.95" fill="#606165" textLength="52.50" lengthAdjust="spacingAndGlyphs" >the Parties in Kigali, Rwanda to include</text>
<text x="501.60" y="202.90" font-size="2.95" fill="#606165" textLength="53.50" lengthAdjust="spacingAndGlyphs" >the phase-down of hydrofluorocarbons</text>
<text x="501.60" y="207.60" font-size="2.95" fill="#606165" textLength="36.00" lengthAdjust="spacingAndGlyphs" >(HFCs) under the Protocol.</text>
<text x="140.00" y="81.80" font-size="1.5" fill="#a8a8ac" text-anchor="end" >© shutterstock</text>
<text x="307.50" y="106.70" font-size="1.5" fill="#a8a8ac" text-anchor="end" >© shutterstock</text>
<text x="382.00" y="144.90" font-size="1.5" fill="#a8a8ac" text-anchor="end" >© shutterstock</text>
<text x="429.30" y="87.70" font-size="1.5" fill="#a8a8ac" text-anchor="end" >© shutterstock</text>
<text x="547.30" y="87.70" font-size="1.5" fill="#a8a8ac" text-anchor="end" >© shutterstock</text>
<text x="529.00" y="127.30" font-size="1.5" fill="#a8a8ac" text-anchor="end" >© shutterstock</text>
<text x="567.00" y="208.80" font-size="1.5" fill="#a8a8ac" text-anchor="end" >© shutterstock</text>
<text x="13.00" y="204.00" font-size="12.2" fill="#2d62a7" font-weight="bold" textLength="41.30" lengthAdjust="spacingAndGlyphs" >Legend</text>
<text x="17.00" y="216.65" font-size="5.5" fill="#fff" font-weight="bold" textLength="115.50" lengthAdjust="spacingAndGlyphs" >2020 - 2022 Article 5 Group 1 Baseline years</text>
<text x="17.00" y="225.55" font-size="5.5" fill="#fff" font-weight="bold" textLength="115.50" lengthAdjust="spacingAndGlyphs" >2024 - 2026 Article 5 Group 2 Baseline years</text>
<text x="17.00" y="234.25" font-size="5.5" fill="#fff" font-weight="bold" textLength="134.50" lengthAdjust="spacingAndGlyphs" >2024 - 2045 Article 5 Group 1 Freeze &amp; Phase-down</text>
<text x="17.00" y="243.05" font-size="5.5" fill="#fff" font-weight="bold" textLength="134.50" lengthAdjust="spacingAndGlyphs" >2028 - 2047 Article 5 Group 2 Freeze &amp; Phase-down</text>
<text x="18.80" y="254.05" font-size="5.5" fill="#fff" font-weight="bold" textLength="104.20" lengthAdjust="spacingAndGlyphs" >2011- 2013 Non-Article 5 Baseline years</text>
<text x="17.00" y="262.65" font-size="5.5" fill="#fff" font-weight="bold" textLength="136.50" lengthAdjust="spacingAndGlyphs" >2019 - 2036 Non-Article 5 Phase-down (earlier start)</text>
<text x="17.00" y="271.25" font-size="5.5" fill="#fff" font-weight="bold" textLength="132.30" lengthAdjust="spacingAndGlyphs" >2020 - 2036 Non-Article 5 Phase-down (later start)</text>
<text x="17.00" y="282.05" font-size="5.5" fill="#fff" font-weight="bold" textLength="124.30" lengthAdjust="spacingAndGlyphs" >2013 - 2030 HCFC Freeze &amp; Phase-Out: Article 5</text>
<text x="17.00" y="290.75" font-size="5.5" fill="#fff" font-weight="bold" textLength="170.50" lengthAdjust="spacingAndGlyphs" >1996 - 2020 HCFC Freeze &amp; Phase-Out: non- Article 5 (not shown)</text>
<text x="13.60" y="326.60" font-size="16.2" fill="#1f5ea8" font-weight="bold" textLength="22.60" lengthAdjust="spacingAndGlyphs" >UN</text>
<g fill="none" stroke="#1f5ea8"><circle cx="46.8" cy="320.8" r="6.7" stroke-width="1.7" stroke-dasharray="2.2 0.35"/><circle cx="46.8" cy="320.3" r="3.5" stroke-width="0.75"/><path d="M43.3 320.300h7M46.800 316.800v7M44.300 318c1.600 1.100 3.400 1.100 5 0M44.300 322.600c1.600-1.100 3.400-1.100 5 0M46.800 316.800c-2 2.200-2 4.800 0 7M46.800 316.800c2 2.200 2 4.800 0 7" stroke-width="0.4"/><path d="M46.800 323.800v3" stroke-width="1"/></g><rect x="45.600" y="313.200" width="2.400" height="1.800" fill="#fff"/>
<text x="13.80" y="335.80" font-size="6.9" fill="#1f5ea8" font-weight="bold" textLength="40.60" lengthAdjust="spacingAndGlyphs" >environment</text>
<text x="14.00" y="343.80" font-size="3.1" fill="#1f5ea8" font-weight="bold" textLength="24.00" lengthAdjust="spacingAndGlyphs" >United Nations</text>
<text x="14.00" y="348.10" font-size="3.1" fill="#1f5ea8" font-weight="bold" textLength="39.70" lengthAdjust="spacingAndGlyphs" >Environment Programme</text>
<text x="101.30" y="332.40" font-size="8.6" fill="#2277b6" textLength="42.50" lengthAdjust="spacingAndGlyphs" stroke="#2277b6" stroke-width="0.22">OzonAction</text>
<text x="103.00" y="336.90" font-size="2.6" fill="#27406f" textLength="40.20" lengthAdjust="spacing" >UN ENVIRONMENT</text>
<text x="14.00" y="359.50" font-size="3.75" fill="#4a78ba" textLength="149.00" lengthAdjust="spacingAndGlyphs" >...is an Implementing Agency of the Montreal Protocol’s Multilateral Fund. OzonAction is working</text>
<text x="14.00" y="366.10" font-size="3.75" fill="#4a78ba" textLength="149.00" lengthAdjust="spacingAndGlyphs" >with 147 developing countries providing interconnected and mutually supporting Compliance</text>
<text x="14.00" y="372.70" font-size="3.75" fill="#4a78ba" textLength="149.00" lengthAdjust="spacingAndGlyphs" >Assistance Services and project support to assist them meeting their current commitments</text>
<text x="14.00" y="379.20" font-size="3.75" fill="#4a78ba" textLength="149.00" lengthAdjust="spacingAndGlyphs" >under the Protocol. OzonAction is now working with these countries to jointly attain the</text>
<text x="14.00" y="385.80" font-size="3.75" fill="#4a78ba" textLength="149.00" lengthAdjust="spacingAndGlyphs" >ambitious achievements in climate protection promised by the Kigali Amendment. To find out</text>
<text x="14.00" y="392.30" font-size="3.75" fill="#4a78ba" textLength="149.00" lengthAdjust="spacingAndGlyphs" >more about OzonAction and to access our materials, tools and publications, including those on</text>
<text x="14" y="398.9" font-size="3.75" fill="#4a78ba" textLength="149" lengthAdjust="spacingAndGlyphs">the Kigali Amendment and related issues, please visit our website: <tspan fill="#d3227b" font-weight="bold">www.unep.org/ozonaction</tspan></text>
<text x="14" y="405.4" font-size="3.75" fill="#4a78ba" textLength="63" lengthAdjust="spacingAndGlyphs">or contact us at <tspan fill="#d3227b" font-weight="bold">ozonaction@unep.org</tspan>.</text>
<text x="171.80" y="364.00" font-size="6.3" fill="#fff" font-weight="bold" textLength="52.00" lengthAdjust="spacingAndGlyphs" >Kigali Amendment</text>
<text x="250.20" y="364.00" font-size="6.3" fill="#fff" font-weight="bold" textLength="72.30" lengthAdjust="spacingAndGlyphs" >Hydrofluorocarbons (HFCs)</text>
<text x="329.60" y="364.00" font-size="6.3" fill="#fff" font-weight="bold" textLength="44.30" lengthAdjust="spacingAndGlyphs" >Country Groups</text>
<text x="171.8" y="373.8" font-size="3.7" fill="#fff" textLength="67" lengthAdjust="spacingAndGlyphs">The Parties to the <tspan font-style="italic">Montreal Protocol on</tspan></text>
<text x="171.8" y="378.7" font-size="3.7" fill="#fff" font-style="italic" textLength="67.8" lengthAdjust="spacingAndGlyphs">Substances that Deplete the Ozone Layer</text>
<text x="171.80" y="383.60" font-size="3.7" fill="#fff" textLength="54.00" lengthAdjust="spacingAndGlyphs" >reached agreement at their 28<tspan dy="-1.2" font-size="2.3">th</tspan></text>
<text x="171.80" y="388.50" font-size="3.7" fill="#fff" textLength="65.80" lengthAdjust="spacingAndGlyphs" >Meeting of the Parties in October 2016</text>
<text x="171.80" y="393.40" font-size="3.7" fill="#fff" textLength="54.50" lengthAdjust="spacingAndGlyphs" >in Kigali, Rwanda to include the</text>
<text x="171.80" y="398.20" font-size="3.7" fill="#fff" textLength="62.00" lengthAdjust="spacingAndGlyphs" >phase-down of hydrofluorocarbons</text>
<text x="171.80" y="403.10" font-size="3.7" fill="#fff" textLength="33.20" lengthAdjust="spacingAndGlyphs" >under the Protocol.</text>
<text x="250.60" y="373.80" font-size="3.7" fill="#fff" textLength="60.30" lengthAdjust="spacingAndGlyphs" >...are commonly-used alternatives to</text>
<text x="250.60" y="378.70" font-size="3.7" fill="#fff" textLength="70.50" lengthAdjust="spacingAndGlyphs" >ozone depleting substances (ODS). While</text>
<text x="250.60" y="383.60" font-size="3.7" fill="#fff" textLength="50.50" lengthAdjust="spacingAndGlyphs" >not ozone depleting, HFCs are</text>
<text x="250.60" y="388.50" font-size="3.7" fill="#fff" textLength="67.00" lengthAdjust="spacingAndGlyphs" >greenhouse gases which can have high</text>
<text x="250.60" y="393.40" font-size="3.7" fill="#fff" textLength="67.00" lengthAdjust="spacingAndGlyphs" >or very high global warming potentials.</text>
<text x="329.60" y="373.80" font-size="3.7" fill="#fff" textLength="130.00" lengthAdjust="spacingAndGlyphs" >The Montreal Protocol Parties are split into four Kigali Amendment groups:</text>
<text x="329.60" y="383.60" font-size="3.7" fill="#fff" textLength="31.00" lengthAdjust="spacingAndGlyphs" >Article 5, Group 1:</text>
<text x="380.00" y="383.60" font-size="3.7" fill="#fff" textLength="55.00" lengthAdjust="spacingAndGlyphs" >The majority of Article 5 Parties.</text>
<text x="329.60" y="388.50" font-size="3.7" fill="#fff" textLength="31.00" lengthAdjust="spacingAndGlyphs" >Article 5, Group 2:</text>
<text x="380.00" y="388.50" font-size="3.7" fill="#fff" textLength="151.30" lengthAdjust="spacingAndGlyphs" >Bahrain, India, Iran, Iraq, Kuwait, Oman, Pakistan, Qatar, Saudi Arabia,  United Arab Emirates</text>
<text x="329.60" y="393.40" font-size="3.7" fill="#fff" textLength="45.00" lengthAdjust="spacingAndGlyphs" >Non-Article 5, earlier start:</text>
<text x="380.00" y="393.40" font-size="3.7" fill="#fff" textLength="50.00" lengthAdjust="spacingAndGlyphs" >Most non-Article 5 countries</text>
<text x="329.60" y="398.20" font-size="3.7" fill="#fff" textLength="41.50" lengthAdjust="spacingAndGlyphs" >Non-Article 5, later start:</text>
<text x="380.00" y="398.20" font-size="3.7" fill="#fff" textLength="120.00" lengthAdjust="spacingAndGlyphs" >Belarus, the Russian Federation, Kazakhstan, Tajikistan, and Uzbekistan</text>
<text x="544.60" y="358.90" font-size="2.45" fill="#3f6cb4" stroke="#3f6cb4" stroke-width="0.1">1.</text>
<text x="547.40" y="358.90" font-size="2.45" fill="#3f6cb4" textLength="30.00" lengthAdjust="spacingAndGlyphs" stroke="#3f6cb4" stroke-width="0.1">The Kigali Amendment has</text>
<text x="547.40" y="361.20" font-size="2.45" fill="#3f6cb4" textLength="33.50" lengthAdjust="spacingAndGlyphs" stroke="#3f6cb4" stroke-width="0.1">reached the minimum number</text>
<text x="547.40" y="363.50" font-size="2.45" fill="#3f6cb4" textLength="36.00" lengthAdjust="spacingAndGlyphs" stroke="#3f6cb4" stroke-width="0.1">of ratifications required to enter</text>
<text x="547.40" y="365.80" font-size="2.45" fill="#3f6cb4" textLength="32.00" lengthAdjust="spacingAndGlyphs" stroke="#3f6cb4" stroke-width="0.1">into force on 1 January 2019.</text>
<text x="544.60" y="372.60" font-size="2.45" fill="#3f6cb4" stroke="#3f6cb4" stroke-width="0.1">2.</text>
<text x="547.40" y="372.60" font-size="2.45" fill="#3f6cb4" textLength="28.00" lengthAdjust="spacingAndGlyphs" stroke="#3f6cb4" stroke-width="0.1"> ...or when Article 4 of the</text>
<text x="547.40" y="374.90" font-size="2.45" fill="#3f6cb4" textLength="32.00" lengthAdjust="spacingAndGlyphs" stroke="#3f6cb4" stroke-width="0.1">Protocol has been ratified by</text>
<text x="547.40" y="377.20" font-size="2.45" fill="#3f6cb4" textLength="37.00" lengthAdjust="spacingAndGlyphs" stroke="#3f6cb4" stroke-width="0.1">70 countries - whichever is later.</text>
<text x="544.60" y="383.90" font-size="2.45" fill="#3f6cb4" stroke="#3f6cb4" stroke-width="0.1">3.</text>
<text x="547.40" y="383.90" font-size="2.45" fill="#3f6cb4" textLength="33.00" lengthAdjust="spacingAndGlyphs" stroke="#3f6cb4" stroke-width="0.1">The date after which any new</text>
<text x="547.40" y="386.20" font-size="2.45" fill="#3f6cb4" textLength="26.00" lengthAdjust="spacingAndGlyphs" stroke="#3f6cb4" stroke-width="0.1">manufacturing capacity</text>
<text x="547.40" y="388.50" font-size="2.45" fill="#3f6cb4" textLength="33.50" lengthAdjust="spacingAndGlyphs" stroke="#3f6cb4" stroke-width="0.1">producing or consuming HFCs</text>
<text x="547.40" y="390.80" font-size="2.45" fill="#3f6cb4" textLength="36.00" lengthAdjust="spacingAndGlyphs" stroke="#3f6cb4" stroke-width="0.1">is not eligible for funding under</text>
<text x="547.40" y="393.10" font-size="2.45" fill="#3f6cb4" textLength="19.50" lengthAdjust="spacingAndGlyphs" stroke="#3f6cb4" stroke-width="0.1">Multilateral Fund.</text>
<text x="544.60" y="400.20" font-size="2.45" fill="#3f6cb4" textLength="39.50" lengthAdjust="spacingAndGlyphs" stroke="#3f6cb4" stroke-width="0.1">N.B. HFC baseline calculations also</text>
<text x="544.60" y="402.60" font-size="2.45" fill="#3f6cb4" textLength="33.50" lengthAdjust="spacingAndGlyphs" stroke="#3f6cb4" stroke-width="0.1">include a percentage of HCFC</text>
<text x="544.60" y="405.00" font-size="2.45" fill="#3f6cb4" textLength="38.50" lengthAdjust="spacingAndGlyphs" stroke="#3f6cb4" stroke-width="0.1">baseline production/consumption.</text>
</svg>
</div>
</body></html>
